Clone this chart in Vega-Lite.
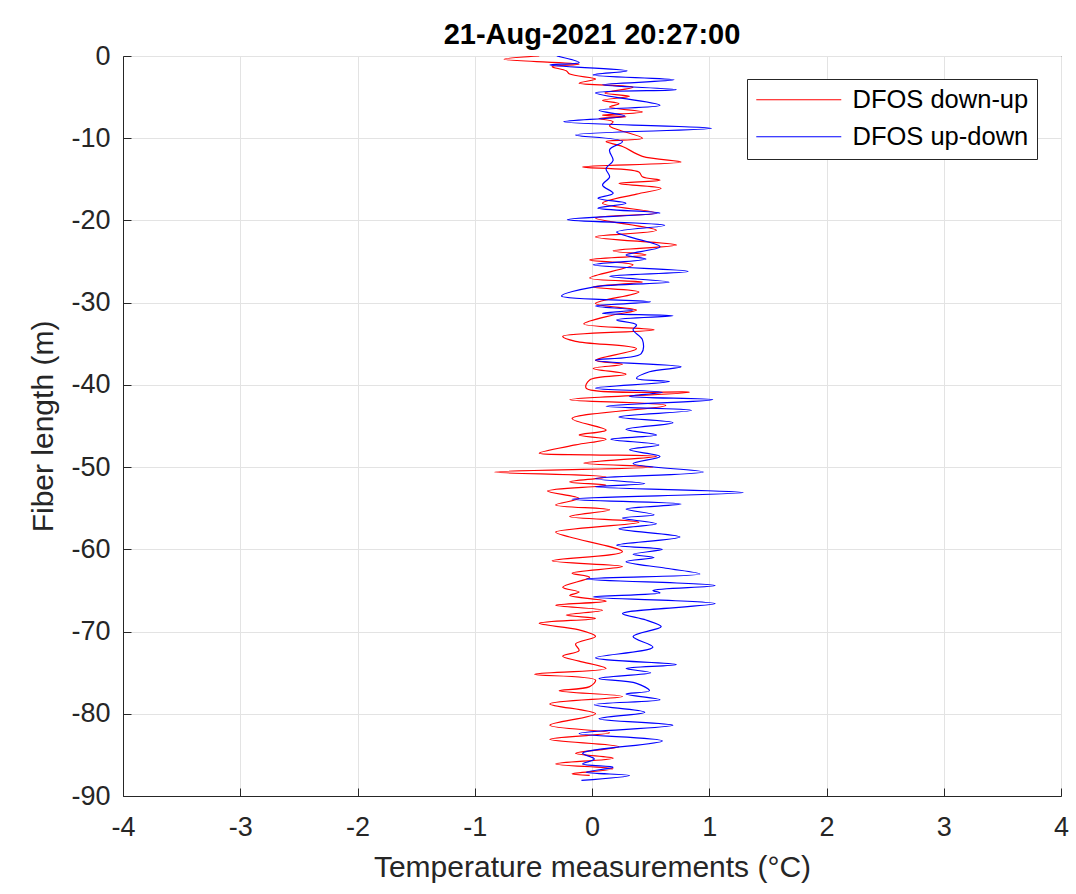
{
  "$schema": "https://vega.github.io/schema/vega-lite/v6.json",
  "width": 938,
  "height": 740,
  "autosize": {"type": "none"},
  "padding": {"left": 123, "top": 56, "right": 15, "bottom": 98},
  "background": "white",
  "title": {"text": "21-Aug-2021 20:27:00", "font": "Liberation Sans", "fontSize": 29, "fontWeight": "bold", "color": "#000000", "offset": -8, "anchor": "middle"},
  "config": {
    "view": {"stroke": "#262626", "strokeWidth": 1},
    "axis": {"labelFont": "Liberation Sans", "titleFont": "Liberation Sans", "labelFontSize": 27, "titleFontSize": 30, "labelColor": "#262626", "titleColor": "#262626", "titleFontWeight": "normal", "gridColor": "#e3e3e3", "gridWidth": 1, "domainColor": "#262626", "tickColor": "#262626", "tickSize": -8, "labelPadding": 26, "labelExpr": "'' + datum.value"}
  },
  "datasets": {
    "down": [
      {"t": -0.45, "d": 0}, {"t": -0.75, "d": -0.4}, {"t": -0.11, "d": -1.0}, {"t": -0.34, "d": -1.3}, {"t": -0.22, "d": -1.8}, {"t": -0.19, "d": -2.2}, {"t": 0.03, "d": -2.8}, {"t": -0.11, "d": -3.3}, {"t": 0.35, "d": -3.8}, {"t": 0.11, "d": -4.5}, {"t": 0.32, "d": -4.9}, {"t": 0.09, "d": -5.4}, {"t": 0.23, "d": -5.8}, {"t": 0.15, "d": -6.2}, {"t": 0.43, "d": -6.8}, {"t": 0.09, "d": -7.2}, {"t": 0.29, "d": -7.4}, {"t": 0.06, "d": -7.6}, {"t": 0.18, "d": -8.0}, {"t": 0.15, "d": -8.5}, {"t": 0.23, "d": -9.0}, {"t": 0.43, "d": -10.0}, {"t": 0.12, "d": -10.4}, {"t": 0.26, "d": -11.0}, {"t": 0.43, "d": -12.2}, {"t": 0.76, "d": -12.9}, {"t": -0.08, "d": -13.5}, {"t": 0.40, "d": -14.1}, {"t": 0.43, "d": -14.7}, {"t": 0.58, "d": -15.1}, {"t": 0.23, "d": -15.5}, {"t": 0.59, "d": -16.1},
      {"t": 0.38, "d": -16.8}, {"t": 0.09, "d": -17.9}, {"t": 0.55, "d": -19.1}, {"t": 0.03, "d": -19.7}, {"t": 0.55, "d": -21.2}, {"t": 0.03, "d": -22.0}, {"t": 0.72, "d": -23.0}, {"t": 0.18, "d": -23.7}, {"t": 0.46, "d": -24.2}, {"t": -0.02, "d": -24.8}, {"t": 0.35, "d": -25.4}, {"t": -0.02, "d": -27.0}, {"t": 0.43, "d": -27.5}, {"t": 0.01, "d": -28.1}, {"t": 0.40, "d": -28.7}, {"t": 0.03, "d": -30.1}, {"t": 0.38, "d": -30.9},
      {"t": 0.18, "d": -31.5}, {"t": -0.07, "d": -32.6}, {"t": 0.53, "d": -33.3}, {"t": -0.25, "d": -34.1}, {"t": -0.14, "d": -34.7}, {"t": 0.38, "d": -35.6}, {"t": 0.03, "d": -37.0}, {"t": 0.26, "d": -37.5}, {"t": 0.01, "d": -38.0}, {"t": 0.29, "d": -38.7}, {"t": -0.02, "d": -39.4}, {"t": -0.05, "d": -40.4}, {"t": 0.83, "d": -40.9}, {"t": -0.19, "d": -41.8}, {"t": 0.63, "d": -42.5}, {"t": -0.17, "d": -44.1}, {"t": 0.12, "d": -45.5}, {"t": -0.11, "d": -46.1}, {"t": 0.12, "d": -46.6},
      {"t": -0.14, "d": -47.3}, {"t": -0.45, "d": -48.3}, {"t": -0.02, "d": -48.5}, {"t": 0.55, "d": -48.7}, {"t": -0.07, "d": -49.5}, {"t": 0.52, "d": -50.0}, {"t": -0.83, "d": -50.6}, {"t": 0.12, "d": -51.2}, {"t": -0.19, "d": -51.8}, {"t": 0.12, "d": -52.2}, {"t": -0.38, "d": -52.9}, {"t": -0.11, "d": -53.8}, {"t": -0.31, "d": -54.6}, {"t": 0.15, "d": -55.2}, {"t": -0.19, "d": -56.0}, {"t": 0.40, "d": -56.7}, {"t": -0.31, "d": -57.9}, {"t": -0.19, "d": -58.5}, {"t": 0.26, "d": -60.3}, {"t": -0.34, "d": -61.4}, {"t": 0.26, "d": -62.1}, {"t": -0.17, "d": -62.9}, {"t": -0.02, "d": -63.4},
      {"t": -0.25, "d": -64.6}, {"t": -0.11, "d": -65.2}, {"t": -0.19, "d": -65.6}, {"t": 0.12, "d": -66.3}, {"t": -0.31, "d": -66.8}, {"t": 0.09, "d": -67.4}, {"t": -0.22, "d": -68.0}, {"t": 0.03, "d": -68.4}, {"t": -0.45, "d": -69.0}, {"t": -0.11, "d": -69.8}, {"t": 0.03, "d": -70.6}, {"t": -0.14, "d": -71.5}, {"t": -0.11, "d": -72.3}, {"t": -0.25, "d": -73.0}, {"t": -0.11, "d": -73.6}, {"t": 0.12, "d": -74.5}, {"t": -0.49, "d": -75.2}, {"t": 0.03, "d": -75.9}, {"t": -0.02, "d": -76.7}, {"t": -0.28, "d": -77.2}, {"t": 0.26, "d": -77.9}, {"t": -0.36, "d": -78.8},
      {"t": 0.03, "d": -80.0}, {"t": -0.36, "d": -81.4}, {"t": 0.15, "d": -82.3}, {"t": -0.36, "d": -83.1}, {"t": 0.23, "d": -84.0}, {"t": -0.14, "d": -84.8}, {"t": 0.18, "d": -85.4}, {"t": -0.31, "d": -86.1}, {"t": 0.18, "d": -86.7}, {"t": -0.17, "d": -87.3}, {"t": -0.02, "d": -87.5}
    ],
    "up": [
      {"t": -0.3, "d": 0}, {"t": -0.11, "d": -0.8}, {"t": -0.36, "d": -1.1}, {"t": 0.30, "d": -1.8}, {"t": 0.01, "d": -2.3}, {"t": 0.70, "d": -2.9}, {"t": 0.09, "d": -3.5}, {"t": 0.72, "d": -4.1}, {"t": 0.03, "d": -4.5}, {"t": 0.58, "d": -6.0}, {"t": 0.06, "d": -6.6}, {"t": 0.28, "d": -7.3}, {"t": -0.24, "d": -8.0}, {"t": 1.02, "d": -8.8}, {"t": -0.14, "d": -9.6}, {"t": 0.26, "d": -10.4}, {"t": 0.15, "d": -11.4}, {"t": 0.18, "d": -12.7}, {"t": 0.12, "d": -13.7}, {"t": 0.15, "d": -14.7}, {"t": 0.09, "d": -15.7},
      {"t": 0.18, "d": -16.7}, {"t": 0.05, "d": -17.3}, {"t": 0.29, "d": -17.9}, {"t": 0.05, "d": -18.5}, {"t": 0.58, "d": -19.1}, {"t": -0.21, "d": -19.9}, {"t": 0.62, "d": -20.6}, {"t": 0.21, "d": -21.4}, {"t": 0.32, "d": -22.0}, {"t": 0.58, "d": -23.2}, {"t": 0.29, "d": -24.2}, {"t": 0.46, "d": -24.7}, {"t": 0.01, "d": -25.4}, {"t": 0.82, "d": -26.2}, {"t": 0.15, "d": -26.8}, {"t": 0.66, "d": -27.5}, {"t": 0.01, "d": -28.1}, {"t": -0.26, "d": -29.2}, {"t": 0.50, "d": -29.9}, {"t": 0.03, "d": -30.4}, {"t": 0.35, "d": -30.9}, {"t": 0.09, "d": -31.3}, {"t": 0.69, "d": -31.6},
      {"t": 0.21, "d": -32.1}, {"t": 0.38, "d": -32.7}, {"t": 0.35, "d": -33.3}, {"t": 0.43, "d": -34.5}, {"t": 0.42, "d": -36.2}, {"t": 0.03, "d": -37.0}, {"t": 0.76, "d": -37.8}, {"t": 0.49, "d": -38.4}, {"t": 0.38, "d": -39.2}, {"t": 0.66, "d": -39.6}, {"t": 0.03, "d": -40.4}, {"t": 0.60, "d": -40.9}, {"t": 0.32, "d": -41.4}, {"t": 1.03, "d": -41.8}, {"t": 0.12, "d": -42.6}, {"t": 0.85, "d": -43.1}, {"t": 0.23, "d": -43.9}, {"t": 0.69, "d": -44.6}, {"t": 0.29, "d": -45.4}, {"t": 0.55, "d": -46.1}, {"t": 0.16, "d": -46.6}, {"t": 0.57, "d": -47.3},
      {"t": 0.32, "d": -47.9}, {"t": 0.58, "d": -48.7}, {"t": 0.35, "d": -49.6}, {"t": 0.95, "d": -50.6}, {"t": 0.03, "d": -51.4}, {"t": 0.45, "d": -52.0}, {"t": 0.03, "d": -52.4}, {"t": 1.29, "d": -53.1}, {"t": -0.17, "d": -53.9}, {"t": 0.76, "d": -54.5}, {"t": 0.29, "d": -55.1}, {"t": 0.53, "d": -55.8}, {"t": 0.26, "d": -56.2}, {"t": 0.55, "d": -56.9}, {"t": 0.23, "d": -57.5}, {"t": 0.75, "d": -58.5}, {"t": 0.21, "d": -59.5}, {"t": 0.60, "d": -60.0}, {"t": 0.35, "d": -60.6}, {"t": 0.53, "d": -61.0}, {"t": 0.29, "d": -61.5}, {"t": 0.63, "d": -62.3}, {"t": 0.92, "d": -63.0}, {"t": -0.05, "d": -63.6},
      {"t": 1.05, "d": -64.4}, {"t": 0.52, "d": -65.0}, {"t": 0.58, "d": -65.3}, {"t": 0.01, "d": -65.8}, {"t": 1.05, "d": -66.6}, {"t": 0.26, "d": -67.8}, {"t": 0.46, "d": -68.6}, {"t": 0.59, "d": -69.4}, {"t": 0.35, "d": -70.6}, {"t": 0.52, "d": -71.9}, {"t": 0.03, "d": -73.2}, {"t": 0.72, "d": -74.0}, {"t": 0.29, "d": -74.5}, {"t": 0.50, "d": -75.0}, {"t": 0.06, "d": -75.7}, {"t": 0.38, "d": -76.3}, {"t": 0.49, "d": -77.2}, {"t": 0.29, "d": -77.6}, {"t": 0.58, "d": -78.3}, {"t": 0.02, "d": -78.9}, {"t": 0.45, "d": -79.8},
      {"t": 0.06, "d": -80.6}, {"t": 0.69, "d": -81.4}, {"t": -0.11, "d": -82.4}, {"t": 0.60, "d": -83.3}, {"t": -0.08, "d": -84.8}, {"t": 0.02, "d": -85.5}, {"t": -0.08, "d": -86.1}, {"t": 0.18, "d": -86.5}, {"t": -0.05, "d": -87.1}, {"t": 0.32, "d": -87.5}, {"t": -0.09, "d": -88.1}
    ]
  },
  "layer": [
    {
      "data": {"name": "down"},
      "transform": [{"calculate": "'DFOS down-up'", "as": "series"}],
      "mark": {"type": "line", "interpolate": "catmull-rom", "strokeWidth": 1.2, "clip": true},
      "encoding": {
        "x": {"field": "t", "type": "quantitative", "scale": {"domain": [-4, 4], "nice": false, "zero": false}, "axis": {"values": [-4, -3, -2, -1, 0, 1, 2, 3, 4], "title": "Temperature measurements (°C)", "titlePadding": 12, "labelFlush": false}},
        "y": {"field": "d", "type": "quantitative", "scale": {"domain": [-90, 0], "nice": false, "zero": false}, "axis": {"values": [0, -10, -20, -30, -40, -50, -60, -70, -80, -90], "title": "Fiber length (m)", "titlePadding": 12, "labelPadding": 21, "labelFlush": false}},
        "order": {"field": "d", "sort": "descending"},
        "color": {"field": "series", "type": "nominal", "scale": {"domain": ["DFOS down-up", "DFOS up-down"], "range": ["#ff0000", "#0000ff"]},
          "legend": {"title": null, "orient": "none", "legendX": 624, "legendY": 23, "symbolType": "M-1.35,0H8.65", "symbolSize": 289, "symbolStrokeWidth": 1.2, "labelFont": "Liberation Sans", "labelFontSize": 25.5, "labelColor": "#000000", "labelOffset": 72, "padding": 8, "rowPadding": 10, "strokeColor": "#262626", "fillColor": "#ffffff", "cornerRadius": 0, "labelLimit": 400,
            "encode": {"symbols": {"update": {"stroke": {"scale": "color", "field": "value"}, "fill": {"value": "transparent"}}}}}}
      }
    },
    {
      "data": {"name": "up"},
      "transform": [{"calculate": "'DFOS up-down'", "as": "series"}],
      "mark": {"type": "line", "interpolate": "catmull-rom", "strokeWidth": 1.2, "clip": true},
      "encoding": {
        "x": {"field": "t", "type": "quantitative"},
        "y": {"field": "d", "type": "quantitative"},
        "order": {"field": "d", "sort": "descending"},
        "color": {"field": "series", "type": "nominal"}
      }
    }
  ]
}
